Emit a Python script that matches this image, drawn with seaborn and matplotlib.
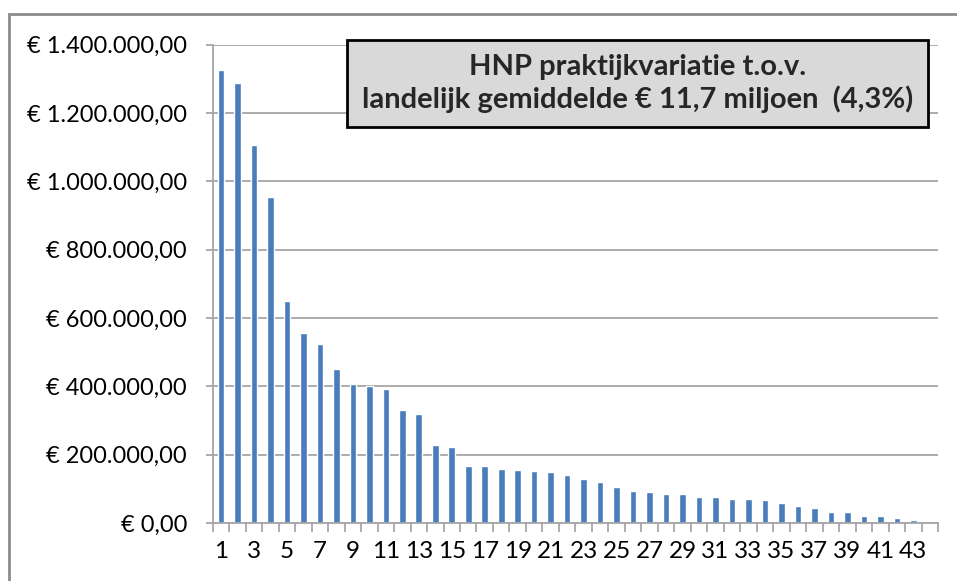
import numpy as np
import pandas as pd

import matplotlib
matplotlib.use('Agg')
import matplotlib.pyplot as plt
from matplotlib.patches import Rectangle
from matplotlib.ticker import FuncFormatter, FixedLocator
import seaborn as sns

# praktijk rangnummer en bedrag (euro)
praktijk = list(range(1, 45))
bedrag = [
    1325000, 1288000, 1105000, 953000, 650000, 555000, 524000, 452000,
    407000, 400000, 392000, 330000, 318000, 227000, 221000, 167000,
    167000, 159000, 156000, 152000, 148000, 140000, 130000, 121000,
    104000, 95000, 91000, 84000, 86000, 77000, 77000, 71000,
    71000, 67000, 59000, 51000, 44000, 32500, 32500, 20700,
    20700, 13600, 9800, 6000,
]
titel = "HNP praktijkvariatie t.o.v.\nlandelijk gemiddelde € 11,7 miljoen  (4,3%)"

df = pd.DataFrame({"praktijk": praktijk, "bedrag": bedrag})

sns.set_theme(style="white")
plt.rcParams['font.family'] = ['Lato', 'DejaVu Sans']

grid_col = "#a6a6a6"
bar_col = "#4a7dbb"

fig = plt.figure(figsize=(9.57, 5.81), dpi=100)
ax = fig.add_axes([0.2223, 0.0998, 0.9802 - 0.2223, 0.9234 - 0.0998])

sns.barplot(data=df, x="praktijk", y="bedrag", color=bar_col, width=0.4,
            saturation=1, ax=ax)

ax.set_xlim(-0.5, len(praktijk) - 0.5)
ax.set_ylim(0, 1400000)
ax.set_yticks(np.arange(0, 1400001, 200000))


def euro(v, pos):
    s = f"{v:,.2f}".replace(",", "X").replace(".", ",").replace("X", ".")
    return "€ " + s


ax.yaxis.set_major_formatter(FuncFormatter(euro))
ax.yaxis.grid(True, color=grid_col, lw=1.3)
ax.set_axisbelow(True)

ax.set_xticks(range(0, len(praktijk), 2))
ax.set_xticklabels([str(p) for p in praktijk[::2]])
ax.xaxis.set_minor_locator(FixedLocator(np.arange(-0.5, len(praktijk), 1)))
ax.tick_params(axis="x", which="major", length=0, pad=13, labelsize=17.5, colors="black")
ax.tick_params(axis="x", which="minor", length=6.5, width=1.3, color=grid_col, bottom=True)
ax.tick_params(axis="y", length=5, width=1.3, color=grid_col, left=True, pad=13.5,
               labelsize=17, labelcolor="black")

for side in ["top", "right"]:
    ax.spines[side].set_visible(False)
for side in ["left", "bottom"]:
    ax.spines[side].set_color(grid_col)
    ax.spines[side].set_linewidth(1.3)

ax.set_xlabel("")
ax.set_ylabel("")

# kader om de hele grafiek
fig.patches.append(Rectangle((9 / 957, -0.1), 1.2, 1 - 14 / 581 + 0.1,
                             transform=fig.transFigure, fill=False,
                             edgecolor="#8c8c8c", lw=2))

# titelkader
bx0, bx1 = 347 / 957, 928 / 957
by0, by1 = 1 - 127 / 581, 1 - 40 / 581
fig.patches.append(Rectangle((bx0, by0), bx1 - bx0, by1 - by0,
                             transform=fig.transFigure, facecolor="#d9d9d9",
                             edgecolor="black", lw=2, zorder=5))
fig.text((bx0 + bx1) / 2, (by0 + by1) / 2, titel, ha="center", va="center",
         fontsize=21, fontweight="bold", linespacing=1.2, zorder=6)

fig.savefig("out.png", dpi=100)
